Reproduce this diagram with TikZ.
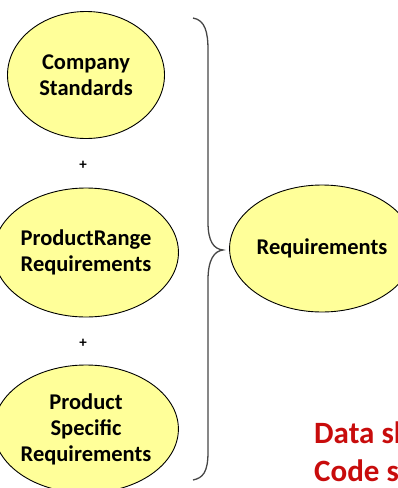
\documentclass[tikz,border=0pt]{standalone}
\usepackage{fontspec}
\setmainfont{Carlito}
\usetikzlibrary{shapes.geometric}
\definecolor{ellfill}{RGB}{255,255,153}
\definecolor{bracegray}{RGB}{70,70,70}
\definecolor{redtext}{RGB}{200,12,12}
\tikzset{
  reqell/.style={ellipse, draw=black, line width=0.9pt, fill=ellfill, inner sep=0pt,
    minimum width=157pt, minimum height=127pt, align=center,
    font=\fontsize{22.5}{26}\selectfont\bfseries},
  plus/.style={font=\fontsize{15}{16}\selectfont\bfseries, inner sep=0pt},
  redlabel/.style={text=redtext, font=\fontsize{31}{36}\selectfont\bfseries, inner sep=0pt, anchor=base west},
  bracestyle/.style={draw=bracegray, line width=1.3pt}
}
\begin{document}
\begin{tikzpicture}[x=1pt,y=-1pt]
\useasboundingbox (0,0) rectangle (398,488);
\clip (0,0) rectangle (398,488);
\node[reqell] (cs) at (86,75) {Company\\Standards};
\node[plus] (p1) at (83,165) {+};
\node[reqell, minimum height=129pt] (pr) at (86,252.5) {ProductRange\\Requirements};
\node[plus] (p2) at (83,343) {+};
\node[reqell, minimum height=128pt] (ps) at (86,429) {Product\\Specific\\Requirements};
\node[reqell, minimum width=150pt] (rq) at (322,248.5) {Requirements};
\coordinate (bt) at (193,18);
\coordinate (bm) at (223,250);
\coordinate (bb) at (193,480);
\draw[bracestyle] (bt) .. controls (205,20) and (208,32) .. (208,50)
  -- (208,222) .. controls (208,242) and (214,249) .. (bm)
  .. controls (214,251) and (208,260) .. (208,280)
  -- (208,452) .. controls (208,472) and (203,478) .. (bb);
\node[redlabel] (d1) at (314,443) {Data sh};
\node[redlabel] (d2) at (314,481) {Code s};
\end{tikzpicture}
\end{document}
